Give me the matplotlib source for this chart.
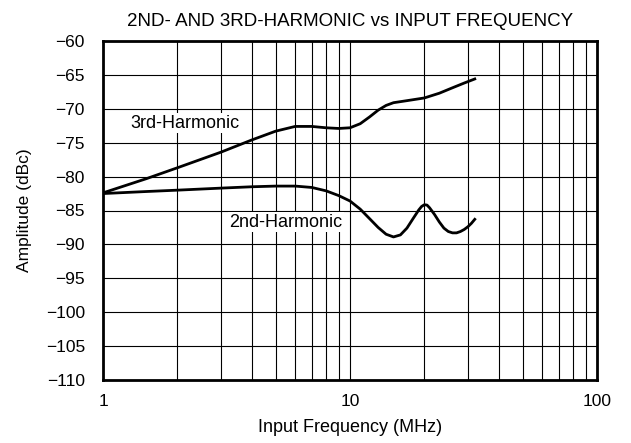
import matplotlib
matplotlib.use("Agg")
import matplotlib.pyplot as plt
import numpy as np
from matplotlib.ticker import FixedLocator, NullFormatter, LogLocator

plt.rcParams['font.family'] = ['Liberation Sans', 'DejaVu Sans']

# 3rd harmonic (MHz, dBc)
h3_freq = [1.0, 1.5, 2.0, 3.0, 4.0, 5.0, 6.0, 7.0, 8.0, 9.0, 10.0, 11.0, 12.0, 13.0, 14.0, 15.0, 17.0, 20.0, 23.0, 26.0, 29.0, 32.0]
h3_amp = [-82.4, -80.3, -78.7, -76.4, -74.6, -73.3, -72.6, -72.6, -72.8, -72.9, -72.8, -72.2, -71.2, -70.2, -69.5, -69.1, -68.8, -68.4, -67.7, -66.9, -66.2, -65.6]

# 2nd harmonic (MHz, dBc)
h2_freq = [1.0, 1.5, 2.0, 3.0, 4.0, 5.0, 6.0, 7.0, 8.0, 9.0, 10.0, 11.0, 12.0, 13.0, 14.0, 15.0, 16.0, 17.0, 18.0, 19.0, 19.5, 20.0, 20.5, 21.0, 22.0, 23.0, 24.0, 25.0, 26.0, 27.0, 28.0, 29.0, 30.0, 31.0, 32.0]
h2_amp = [-82.5, -82.2, -82.0, -81.7, -81.5, -81.4, -81.4, -81.6, -82.1, -82.8, -83.6, -84.8, -86.2, -87.5, -88.5, -88.9, -88.6, -87.6, -86.2, -84.9, -84.4, -84.15, -84.2, -84.6, -85.6, -86.7, -87.6, -88.1, -88.3, -88.3, -88.1, -87.8, -87.4, -86.9, -86.3]

y_ticks = [-60, -65, -70, -75, -80, -85, -90, -95, -100, -105, -110]
x_ticks = [1, 10, 100]
x_labels = ['1', '10', '100']

fig = plt.figure(figsize=(6.31, 4.43), dpi=100)
ax = fig.add_axes([103 / 631, 1 - 380 / 443, 494 / 631, 339 / 443])

ax.plot(h3_freq, h3_amp, color='black', lw=2, zorder=3)
ax.plot(h2_freq, h2_amp, color='black', lw=2, zorder=3)

ax.set_xscale('log')
ax.set_xlim(1, 100)
ax.set_ylim(-110, -60)
ax.set_yticks(y_ticks)
ax.set_yticklabels([str(v).replace('-', '\u2212') for v in y_ticks])
ax.xaxis.set_major_locator(FixedLocator(x_ticks))
ax.set_xticklabels(x_labels)
ax.xaxis.set_minor_locator(LogLocator(base=10, subs=np.arange(2, 10)))
ax.xaxis.set_minor_formatter(NullFormatter())
ax.tick_params(which='both', length=0, labelsize=12.5)
ax.tick_params(axis='y', pad=13)
ax.tick_params(axis='x', pad=10)

ax.grid(True, which='both', axis='x', color='black', lw=0.8)
ax.grid(True, which='major', axis='y', color='black', lw=0.8)
for s in ax.spines.values():
    s.set_linewidth(2)

ax.text(2.15, -72.1, '3rd-Harmonic', fontsize=13, ha='center', va='center',
        bbox=dict(facecolor='white', edgecolor='none', pad=1), zorder=4)
ax.text(5.5, -86.7, '2nd-Harmonic', fontsize=13, ha='center', va='center',
        bbox=dict(facecolor='white', edgecolor='none', pad=1), zorder=4)

ax.set_title('2ND- AND 3RD-HARMONIC vs INPUT FREQUENCY', fontsize=13.5, pad=11)
ax.set_xlabel('Input Frequency (MHz)', fontsize=13, labelpad=7)
ax.set_ylabel('Amplitude (dBc)', fontsize=12.5, labelpad=10)

fig.savefig('out.png', dpi=100)
